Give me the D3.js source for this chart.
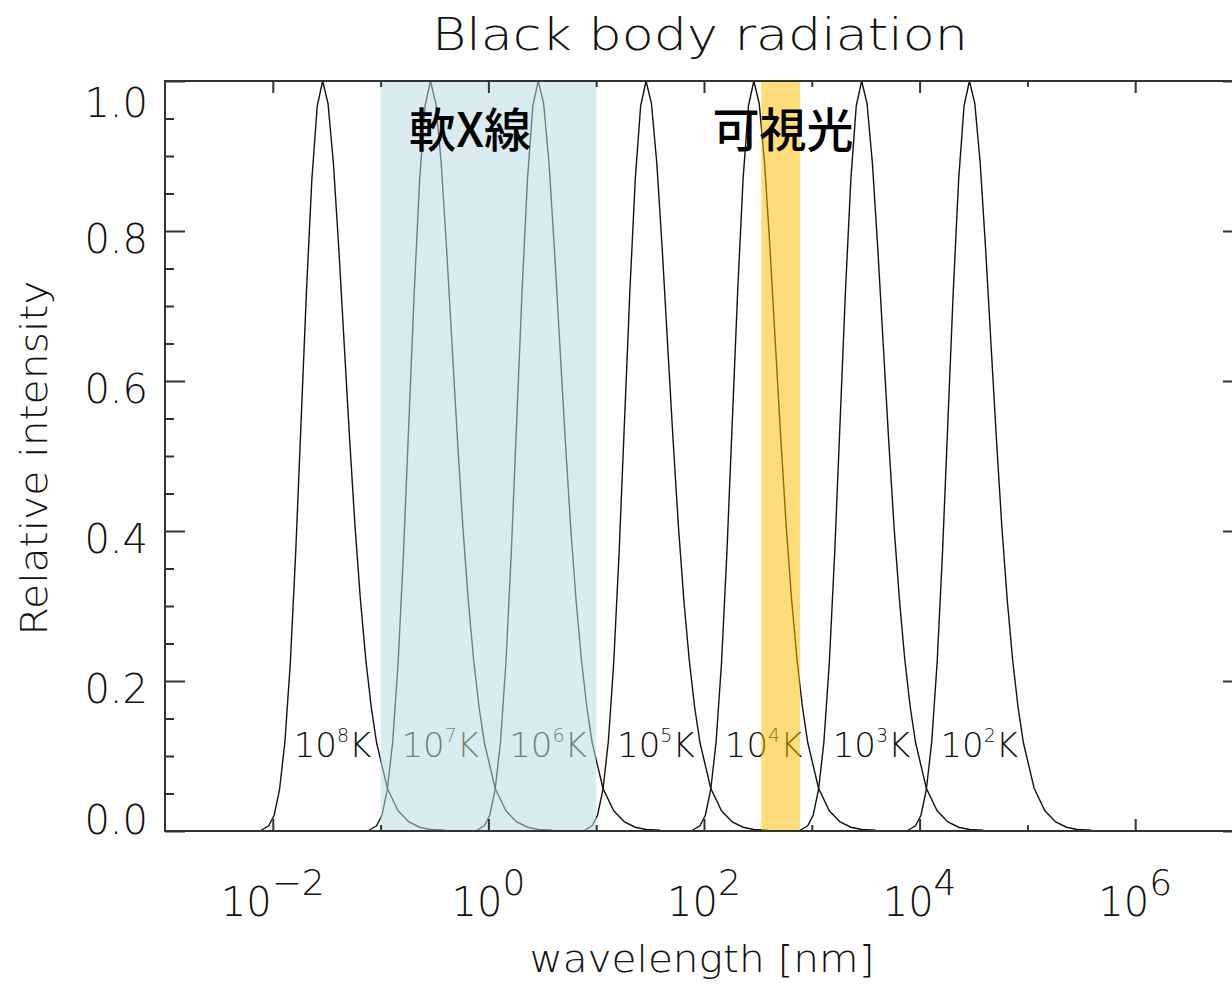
<!DOCTYPE html>
<html lang="ja">
<head>
<meta charset="utf-8">
<title>Black body radiation</title>
<script src="https://cdn.jsdelivr.net/npm/d3@7"></script>
<style>
  html, body { margin: 0; padding: 0; background: #fff; }
  svg { display: block; }
  .thin { font-family: "DejaVu Sans", sans-serif; font-weight: 200; fill: #111; }
  .cjk { font-family: "Noto Sans CJK JP", sans-serif; font-weight: 500; fill: #000; }
</style>
</head>
<body>
<div id="chart"></div>
<script>
// DATA
// peak wavelength of each curve [nm]
var peakWavelength = [0.029, 0.29, 2.9, 29, 290, 2900, 29000];
var tempExponent = ["8", "7", "6", "5", "4", "3", "2"];

// shape of one curve: offset from its peak (decades) and relative intensity
var profileOffset = [-0.57, -0.5, -0.45, -0.4, -0.35, -0.3, -0.25, -0.2, -0.15, -0.1, -0.05, 0,
  0.05, 0.1, 0.15, 0.2, 0.25, 0.3, 0.35, 0.4, 0.45, 0.5, 0.6, 0.7, 0.8, 0.9, 1.0, 1.13];
var profileIntensity = [0.001, 0.007, 0.021, 0.055, 0.119, 0.224, 0.371, 0.546, 0.72, 0.869, 0.967, 1,
  0.97, 0.89, 0.776, 0.649, 0.523, 0.407, 0.309, 0.229, 0.166, 0.118, 0.057, 0.027, 0.012, 0.005, 0.002, 0.001];

// shaded bands [nm]
var bandNames = ["軟X線", "可視光"];
var bandFrom = [0.1, 340];
var bandTo = [10, 780];

var xMajor = [1e-2, 1e0, 1e2, 1e4, 1e6];
var xMajorExp = ["\u22122", "0", "2", "4", "6"];
var xMinor = [1e-1, 1e1, 1e3, 1e5];
var yMajor = [0, 0.2, 0.4, 0.6, 0.8, 1.0];
var yMinor = [0.05, 0.1, 0.15, 0.25, 0.3, 0.35, 0.45, 0.5, 0.55, 0.65, 0.7, 0.75, 0.85, 0.9, 0.95];

(function (d3) {

  // Dimensions
  var w = 1232, h = 985;
  var pLeft = 165, pRight = 1243, pTop = 81, pBottom = 831;

  var x = d3.scaleLog().domain([1e-3, 1e7]).range([pLeft, pRight]);
  var y = d3.scaleLinear().domain([0, 1]).range([pBottom, pTop]);

  var svg = d3.select("#chart").append("svg")
    .attr("width", w)
    .attr("height", h)
    .attr("viewBox", "0 0 " + w + " " + h);

  // CURVES
  var line = d3.line()
    .x(function (d) { return x(d[0]); })
    .y(function (d) { return y(d[1]); });

  var curves = peakWavelength.map(function (peak) {
    return profileOffset.map(function (o, i) {
      return [peak * Math.pow(10, o), profileIntensity[i]];
    });
  });

  svg.append("g").selectAll("path")
    .data(curves)
    .enter().append("path")
    .attr("d", line)
    .attr("fill", "none")
    .attr("stroke", "#111")
    .attr("stroke-width", 1.4);

  // curve labels
  var lab = svg.append("g").selectAll("text")
    .data(peakWavelength)
    .enter().append("text")
    .attr("class", "thin")
    .attr("x", function (d) { return x(d) - 29; })
    .attr("y", 757)
    .style("font-size", "34px");
  lab.append("tspan").text("10");
  lab.append("tspan")
    .attr("dy", -15)
    .style("font-size", "19px")
    .text(function (d, i) { return tempExponent[i]; });
  lab.append("tspan")
    .attr("dy", 15)
    .text("K");

  // BANDS
  var bandColor = ["#b9dde4", "#ffbe00"];
  var bandOpacity = [0.55, 0.52];
  svg.append("g").selectAll("rect")
    .data(bandNames)
    .enter().append("rect")
    .attr("x", function (d, i) { return x(bandFrom[i]); })
    .attr("width", function (d, i) { return x(bandTo[i]) - x(bandFrom[i]); })
    .attr("y", pTop)
    .attr("height", pBottom - pTop)
    .attr("fill", function (d, i) { return bandColor[i]; })
    .attr("fill-opacity", function (d, i) { return bandOpacity[i]; });

  // AXES
  function styleTicks(g) {
    g.select(".domain").remove();
    g.selectAll("line").attr("stroke", "#333").attr("stroke-width", 2);
  }
  svg.append("g").attr("transform", "translate(0," + pBottom + ")")
    .call(d3.axisTop(x).tickValues(xMajor).tickSize(12).tickFormat("")).call(styleTicks);
  svg.append("g").attr("transform", "translate(0," + pBottom + ")")
    .call(d3.axisTop(x).tickValues(xMinor).tickSize(6).tickFormat("")).call(styleTicks);
  svg.append("g").attr("transform", "translate(0," + pTop + ")")
    .call(d3.axisBottom(x).tickValues(xMajor).tickSize(12).tickFormat("")).call(styleTicks);
  svg.append("g").attr("transform", "translate(0," + pTop + ")")
    .call(d3.axisBottom(x).tickValues(xMinor).tickSize(6).tickFormat("")).call(styleTicks);
  svg.append("g").attr("transform", "translate(" + pLeft + ",0)")
    .call(d3.axisRight(y).tickValues(yMajor).tickSize(20).tickFormat("")).call(styleTicks);
  svg.append("g").attr("transform", "translate(" + pLeft + ",0)")
    .call(d3.axisRight(y).tickValues(yMinor).tickSize(9).tickFormat("")).call(styleTicks);
  svg.append("g").attr("transform", "translate(" + pRight + ",0)")
    .call(d3.axisLeft(y).tickValues(yMajor).tickSize(20).tickFormat("")).call(styleTicks);
  svg.append("g").attr("transform", "translate(" + pRight + ",0)")
    .call(d3.axisLeft(y).tickValues(yMinor).tickSize(9).tickFormat("")).call(styleTicks);

  svg.append("rect")
    .attr("x", pLeft).attr("y", pTop)
    .attr("width", pRight - pLeft).attr("height", pBottom - pTop)
    .attr("fill", "none")
    .attr("stroke", "#333")
    .attr("stroke-width", 2);

  // tick labels
  var fmtY = d3.format(".1f");
  svg.append("g").selectAll("text")
    .data(yMajor)
    .enter().append("text")
    .attr("class", "thin")
    .attr("text-anchor", "end")
    .attr("x", 148)
    .attr("y", function (d) {
      if (d === 1) return y(d) + 36;
      if (d === 0) return y(d) + 3;
      return y(d) + 22;
    })
    .style("font-size", "40px")
    .text(fmtY);

  var xl = svg.append("g").selectAll("text")
    .data(xMajor)
    .enter().append("text")
    .attr("class", "thin")
    .attr("text-anchor", "middle")
    .attr("x", function (d) { return x(d); })
    .attr("y", 916)
    .style("font-size", "40px");
  xl.append("tspan").text("10");
  xl.append("tspan")
    .attr("dy", -21)
    .style("font-size", "36px")
    .text(function (d, i) { return xMajorExp[i]; });

  // titles
  svg.append("text")
    .attr("class", "thin")
    .attr("text-anchor", "middle")
    .attr("x", 700).attr("y", 50)
    .attr("textLength", 536)
    .attr("lengthAdjust", "spacingAndGlyphs")
    .style("font-size", "44px")
    .text("Black body radiation");

  svg.append("text")
    .attr("class", "thin")
    .attr("text-anchor", "middle")
    .attr("x", 702).attr("y", 972)
    .attr("textLength", 345)
    .attr("lengthAdjust", "spacingAndGlyphs")
    .style("font-size", "38px")
    .text("wavelength [nm]");

  svg.append("text")
    .attr("class", "thin")
    .attr("text-anchor", "middle")
    .attr("transform", "translate(47,458) rotate(-90)")
    .attr("textLength", 355)
    .attr("lengthAdjust", "spacingAndGlyphs")
    .style("font-size", "38px")
    .text("Relative intensity");

  // band labels
  var bandLabelX = [470, 783];
  svg.append("g").selectAll("text")
    .data(bandNames)
    .enter().append("text")
    .attr("class", "cjk")
    .attr("text-anchor", "middle")
    .attr("x", function (d, i) { return bandLabelX[i]; })
    .attr("y", 147)
    .style("font-size", "47px")
    .text(function (d) { return d; });

})(d3);
</script>
</body>
</html>
